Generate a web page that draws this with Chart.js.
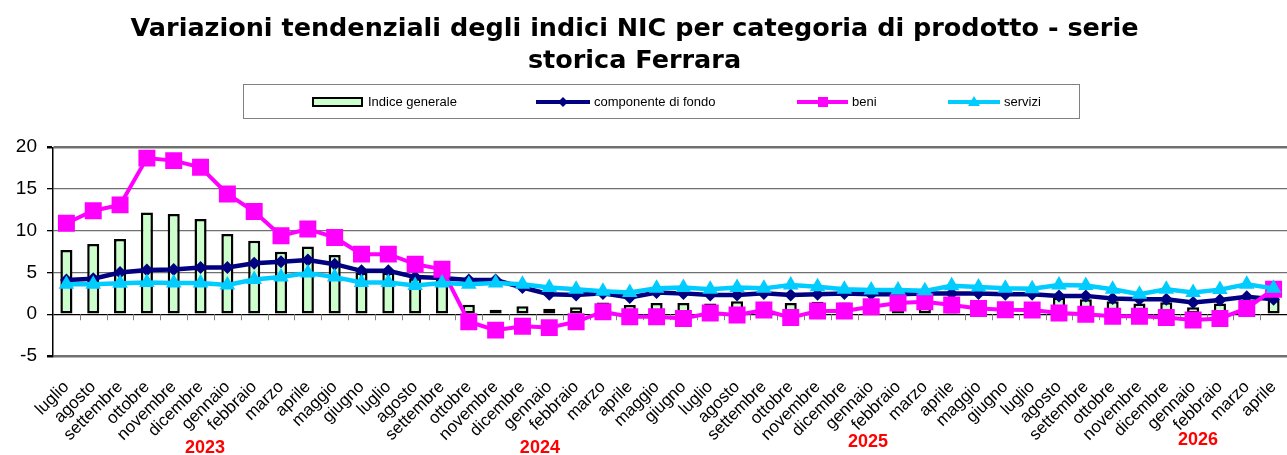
<!DOCTYPE html>
<html>
<head>
<meta charset="utf-8">
<script src="https://cdn.jsdelivr.net/npm/chart.js@4/dist/chart.umd.min.js"></script>
<style>
  body { margin: 0; background: #fff; }
  #wrap { position: relative; width: 1287px; height: 455px; overflow: hidden; }
  #legend { position: absolute; left: 243px; top: 84px; width: 837px; height: 35px; box-sizing: border-box;
            border: 1px solid #808080; font: 13px "Liberation Sans", Arial, sans-serif; color: #000; }
  .item { position: absolute; top: 0; height: 33px; display: flex; align-items: center; white-space: nowrap; }
  .item svg { margin-right: 4px; }
</style>
</head>
<body>
<div id="wrap">
  <canvas id="myChart" width="1287" height="455"></canvas>
  <div id="legend">
    <div class="item" style="left:68px"><svg width="52" height="12"><rect x="1" y="2" width="49" height="8" fill="#CCFFCC" stroke="#000" stroke-width="2"/></svg>Indice generale</div>
    <div class="item" style="left:292px"><svg width="54" height="12"><line x1="0" y1="6" x2="54" y2="6" stroke="#000080" stroke-width="4"/><polygon points="27,1 32,6 27,11 22,6" fill="#000080"/></svg>componente di fondo</div>
    <div class="item" style="left:553px"><svg width="51" height="12"><line x1="0" y1="6" x2="51" y2="6" stroke="#FF00FF" stroke-width="4"/><rect x="21" y="1" width="10" height="10" fill="#FF00FF"/></svg>beni</div>
    <div class="item" style="left:704px"><svg width="52" height="12"><line x1="0" y1="6" x2="52" y2="6" stroke="#00CCFF" stroke-width="4"/><polygon points="26,0 32,10 20,10" fill="#00CCFF"/></svg>servizi</div>
  </div>
</div>
<script>
const months = ['luglio','agosto','settembre','ottobre','novembre','dicembre',
  'gennaio','febbraio','marzo','aprile','maggio','giugno','luglio','agosto','settembre','ottobre','novembre','dicembre',
  'gennaio','febbraio','marzo','aprile','maggio','giugno','luglio','agosto','settembre','ottobre','novembre','dicembre',
  'gennaio','febbraio','marzo','aprile','maggio','giugno','luglio','agosto','settembre','ottobre','novembre','dicembre',
  'gennaio','febbraio','marzo','aprile'];

const indiceGenerale = [7.7, 8.4, 9.0, 12.2, 12.0, 11.4, 9.6, 8.8, 7.5, 8.1, 7.1, 5.0, 5.0, 4.3, 4.2,
  1.15, 0.55, 0.95, 0.65, 0.85, 1.4, 1.1, 1.35, 1.35, 1.3, 1.55, 1.5, 1.35, 1.5, 1.4,
  1.3, 1.1, 1.15, 1.5, 1.6, 1.5, 1.4, 2.0, 1.8, 1.55, 1.3, 1.45, 0.85, 1.3, 1.6, 1.7];

const componenteFondo = [4.1, 4.25, 5.0, 5.3, 5.35, 5.6, 5.6, 6.1, 6.3, 6.5, 6.0, 5.2, 5.2, 4.45, 4.35,
  4.1, 4.1, 3.2, 2.4, 2.3, 2.5, 2.0, 2.6, 2.5, 2.3, 2.3, 2.5, 2.3, 2.4, 2.5,
  2.4, 2.4, 2.5, 2.5, 2.5, 2.4, 2.4, 2.2, 2.2, 1.9, 1.8, 1.8, 1.4, 1.7, 2.1, 1.8];

const beni = [10.9, 12.4, 13.1, 18.7, 18.4, 17.6, 14.4, 12.3, 9.4, 10.2, 9.2, 7.2, 7.2, 6.0, 5.4,
  -0.9, -1.9, -1.45, -1.6, -0.9, 0.3, -0.3, -0.3, -0.5, 0.15, -0.1, 0.5, -0.4, 0.4, 0.4,
  0.9, 1.35, 1.5, 1.1, 0.7, 0.55, 0.5, 0.15, 0.0, -0.25, -0.25, -0.4, -0.7, -0.5, 0.7, 3.0];

const servizi = [3.6, 3.6, 3.7, 3.8, 3.75, 3.75, 3.5, 4.15, 4.45, 4.95, 4.45, 3.8, 3.8, 3.45, 3.75,
  3.6, 3.75, 3.6, 3.2, 3.0, 2.75, 2.6, 3.1, 3.2, 3.0, 3.2, 3.1, 3.5, 3.3, 3.0,
  2.9, 2.9, 2.8, 3.4, 3.25, 3.1, 3.05, 3.5, 3.45, 3.0, 2.4, 3.0, 2.6, 2.95, 3.6, 3.1];

const years = ['2023', '2024', '2025', '2026'];
const yearAt = [5.17, 17.65, 29.88, 42.18];   // category index under which each year sits

const yMin = -5, yMax = 20, yStep = 5;

// small tick marks on the zero line and the red year labels
const axisExtras = {
  id: 'axisExtras',
  afterLayout(chart) {
    // the title in the original sits a little left of centre
    if (chart.titleBlock) {
      chart.titleBlock.left -= 9;
      chart.titleBlock.right -= 9;
    }
  },
  beforeDatasetsDraw(chart) {
    const {ctx, scales: {x, y}} = chart;
    const y0 = y.getPixelForValue(0);
    const step = x.width / months.length;
    ctx.save();
    ctx.strokeStyle = '#808080';
    ctx.lineWidth = 1;
    for (let i = 1; i < months.length; i++) {
      const px = Math.round(x.left + i * step) + 0.5;
      ctx.beginPath();
      ctx.moveTo(px, y0);
      ctx.lineTo(px, y0 + 6);
      ctx.stroke();
    }
    ctx.restore();
  },
  afterDraw(chart) {
    const {ctx, scales: {x}} = chart;
    const yy = [448, 448, 442, 440];
    ctx.save();
    ctx.fillStyle = '#FF0000';
    ctx.font = 'bold 18px "Liberation Sans", Arial, sans-serif';
    ctx.textAlign = 'center';
    ctx.textBaseline = 'middle';
    years.forEach((t, i) => ctx.fillText(t, x.getPixelForValue(yearAt[i]), yy[i]));
    ctx.restore();
  }
};

let ctx = document.getElementById('myChart');

let chart = new Chart(ctx, {
  type: 'bar',
  data: {
    labels: months,
    datasets: [
      {
        type: 'line',
        label: 'servizi',
        data: servizi,
        order: 0,
        borderColor: '#00CCFF',
        backgroundColor: '#00CCFF',
        borderWidth: 4.5,
        tension: 0,
        pointStyle: 'triangle',
        pointRadius: 9,
        pointBorderWidth: 0,
      },
      {
        type: 'line',
        label: 'beni',
        data: beni,
        order: 1,
        borderColor: '#FF00FF',
        backgroundColor: '#FF00FF',
        borderWidth: 4,
        tension: 0,
        pointStyle: 'rect',
        pointRadius: 12,
        pointBorderWidth: 0,
      },
      {
        type: 'line',
        label: 'componente di fondo',
        data: componenteFondo,
        order: 2,
        borderColor: '#000080',
        backgroundColor: '#000080',
        borderWidth: 4.5,
        tension: 0,
        pointStyle: 'rectRot',
        pointRadius: 6.5,
        pointBorderWidth: 0,
      },
      {
        label: 'Indice generale',
        data: indiceGenerale,
        order: 3,
        backgroundColor: '#CCFFCC',
        borderColor: '#000000',
        borderWidth: 2.5,
        borderSkipped: false,
        barPercentage: 0.9,
        categoryPercentage: 0.5,
      },
    ],
  },
  options: {
    responsive: false,
    animation: false,
    devicePixelRatio: 1,
    layout: { padding: 0, autoPadding: false },
    plugins: {
      legend: { display: false },
      tooltip: { enabled: false },
      title: {
        display: true,
        text: ['Variazioni tendenziali degli indici NIC per categoria di prodotto - serie', 'storica Ferrara'],
        color: '#000',
        font: { family: '"DejaVu Sans", Verdana, sans-serif', size: 25.5, weight: 'bold', lineHeight: 1.26 },
        padding: { top: 13, bottom: 70 },
      },
    },
    scales: {
      x: {
        grid: { display: false },
        border: { display: false },
        ticks: {
          autoSkip: false,
          minRotation: 45,
          maxRotation: 45,
          padding: 13,
          color: '#000',
          font: { family: '"Liberation Sans", Arial, sans-serif', size: 17 },
        },
        afterFit: (s) => { s.height = 99; s.paddingRight = 0; s.paddingLeft = 0; },
      },
      y: {
        min: yMin,
        max: yMax,
        ticks: {
          stepSize: yStep,
          padding: 10,
          color: '#000',
          font: { family: '"Liberation Sans", Arial, sans-serif', size: 19 },
        },
        grid: {
          color: (c) => (c.tick && c.tick.value === 0 ? '#000' : '#707070'),
          lineWidth: (c) => (c.tick && (c.tick.value === yMax || c.tick.value === yMin) ? 2.5 : 1.3),
          tickLength: 6,
          tickColor: '#000',
        },
        border: { display: true, color: '#000', width: 1.5 },
        afterFit: (s) => { s.width = 53; },
      },
    },
  },
  plugins: [axisExtras],
});
</script>
</body>
</html>
